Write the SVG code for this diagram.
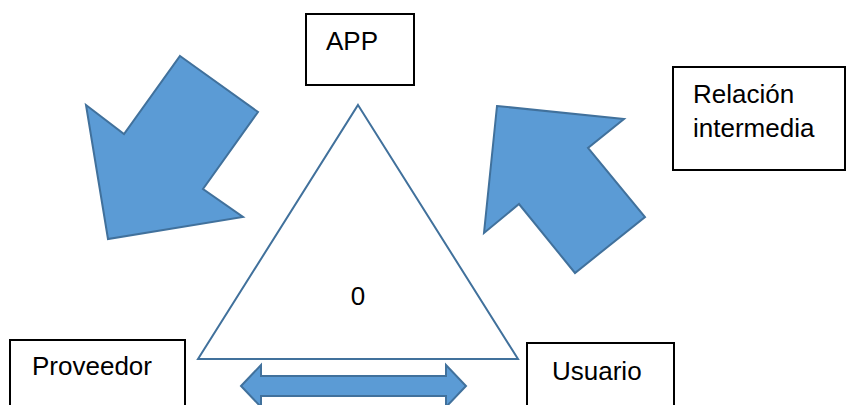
<svg xmlns="http://www.w3.org/2000/svg" width="848" height="405" viewBox="0 0 848 405">
<style>
.box{fill:#fff;stroke:#000;stroke-width:2}
.t{font-family:"Liberation Sans",Arial,sans-serif;font-size:26px;fill:#000}
.arr{fill:#5b9bd5;stroke:#41719c;stroke-width:2;stroke-linejoin:miter}
.tri{fill:#fff;stroke:#41719c;stroke-width:2}
</style>
<rect width="848" height="405" fill="#fff"/>
<g id="triangle">
<polygon class="tri" points="358,105 518,359 198,359"/>
<text class="t" x="358" y="305" text-anchor="middle" font-size="28">0</text>
</g>
<g id="connectors">
<polygon class="arr" points="180,56 258,112 203,189 243,217 108,239 86,105 124,134"/>
<polygon class="arr" points="497,106 624,119 588,148 645,217 575,273 519,204 484,233"/>
<polygon class="arr" points="241,386 261,365 261,376 446,376 446,365 466,386 446,407 446,396 261,396 261,407"/>
</g>
<g id="app">
<rect class="box" x="306" y="14" width="108" height="71"/>
<text class="t" x="326" y="50">APP</text>
</g>
<g id="relacion">
<rect class="box" x="673" y="67" width="172" height="103"/>
<text class="t" x="693" y="103">Relación</text>
<text class="t" x="693" y="137">intermedia</text>
</g>
<g id="proveedor">
<rect class="box" x="10" y="340" width="175" height="80"/>
<text class="t" x="32" y="375">Proveedor</text>
</g>
<g id="usuario">
<rect class="box" x="527" y="343" width="147" height="80"/>
<text class="t" x="552" y="380">Usuario</text>
</g>
</svg>
